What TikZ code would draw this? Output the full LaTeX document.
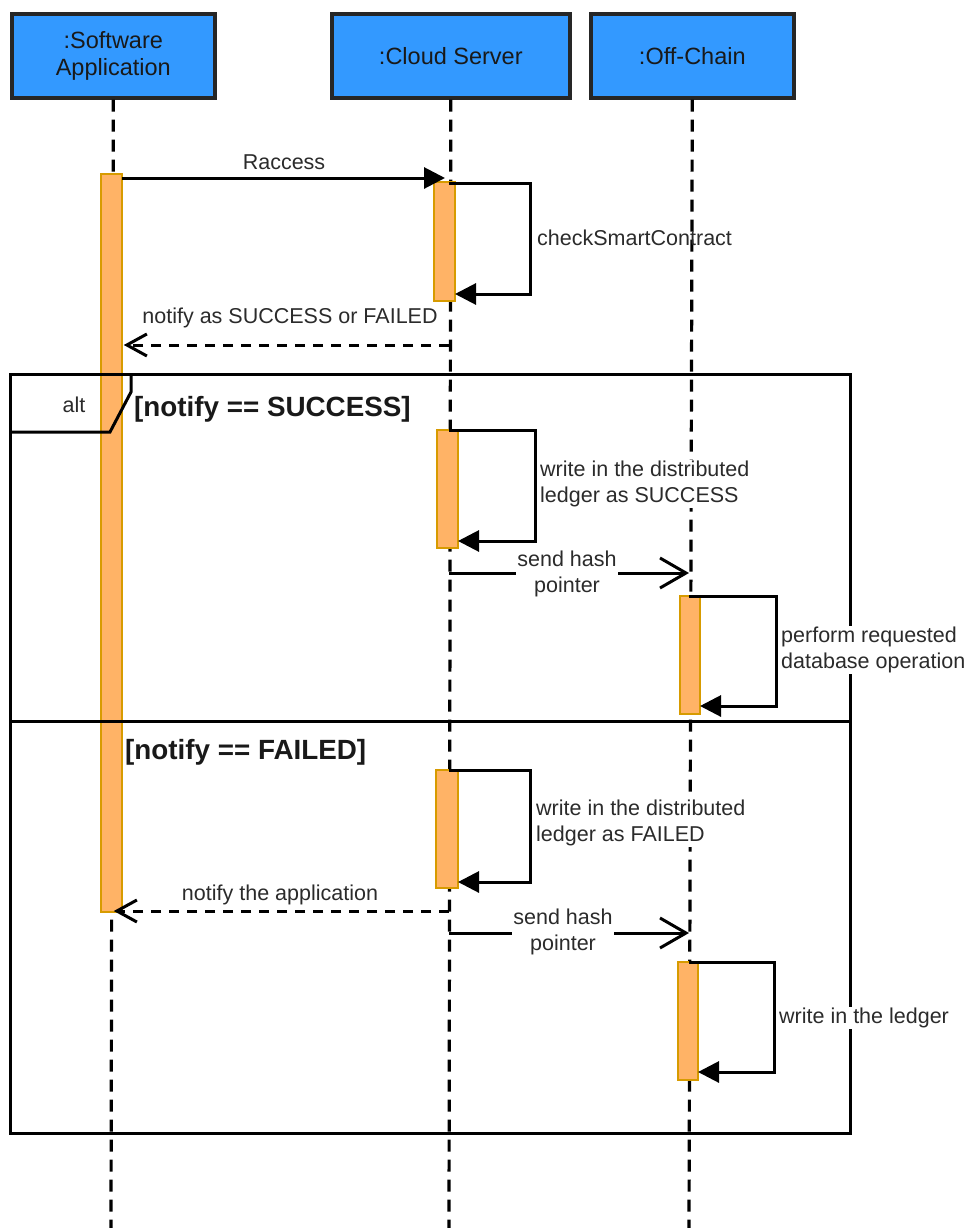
\documentclass[tikz,border=0pt]{standalone}
\usepackage{fontspec}
\setmainfont{Liberation Sans}
\usetikzlibrary{arrows.meta}
\definecolor{boxblue}{HTML}{3399FF}
\definecolor{actfill}{HTML}{FFB366}
\definecolor{actdraw}{HTML}{D79B00}
\definecolor{txtgray}{HTML}{2B2B2B}
\tikzset{
  lifebox/.style={draw=black!85, line width=3.6pt, fill=boxblue, inner sep=0pt, anchor=north west,
    font=\fontsize{23.5}{27}\selectfont, text=black!90, align=center},
  lifeline/.style={line width=3.2pt, dash pattern=on 12pt off 8pt},
  act/.style={draw=actdraw, fill=actfill, line width=1.3pt, inner sep=0pt},
  msg/.style={line width=3pt, -{Triangle[length=21pt,width=21pt]}},
  msgopen/.style={line width=3pt, -{Straight Barb[length=26pt,width=30pt,line width=3pt]}},
  ret/.style={line width=3pt, dash pattern=on 10pt off 8pt, -{Straight Barb[length=20pt,width=22pt,line width=3pt,sep]}},
  lbl/.style={font=\fontsize{21.5}{26}\selectfont, text=txtgray, inner sep=1pt, fill=white, align=center},
  lbll/.style={lbl, align=left, anchor=west},
  guard/.style={font=\bfseries\fontsize{27.8}{30}\selectfont, text=black!90, inner sep=0pt, anchor=west},
  frame/.style={draw=black, line width=3pt}
}
\begin{document}
\begin{tikzpicture}[x=1pt,y=-1pt]
\useasboundingbox (0,0) rectangle (974,1228);
% lifelines
\coordinate (saBot) at (111,1228);
\coordinate (csBot) at (449,1228);
\coordinate (ocBot) at (689,1228);
\node[lifebox, minimum width=203pt, minimum height=84pt] (sa) at (10,12) {:Software\\Application};
\node[lifebox, minimum width=238pt, minimum height=84pt] (cs) at (330,12) {:Cloud Server};
\node[lifebox, minimum width=203pt, minimum height=84pt] (oc) at (589,12) {:Off-Chain};
\draw[lifeline] (sa.south) -- (saBot);
\draw[lifeline] (cs.south) -- (csBot);
\draw[lifeline] (oc.south) -- (ocBot);
% activations
\node[act, minimum width=21pt, minimum height=738pt] (saA) at (111.5,543) {};
\node[act, minimum width=21pt, minimum height=119pt] (cs1) at (444.5,241.5) {};
\node[act, minimum width=21pt, minimum height=118pt] (cs2) at (447.5,489) {};
\node[act, minimum width=20pt, minimum height=118pt] (oc1) at (690,655) {};
\node[act, minimum width=22pt, minimum height=118pt] (cs3) at (447,829) {};
\node[act, minimum width=20pt, minimum height=118pt] (oc2) at (688,1021) {};
% Raccess
\coordinate (r0) at (122,178);
\coordinate (r1) at (445,178);
\draw[msg] (r0) -- (r1);
\node[lbl, fill=none] (lr) at (284,162) {Raccess};
% checkSmartContract loop
\coordinate (l1a) at (449,183);
\coordinate (l1b) at (530,183);
\coordinate (l1c) at (530,294);
\coordinate (l1d) at (455,294);
\draw[msg] (l1a) -- (l1b) -- (l1c) -- (l1d);
\node[lbll, fill=none] (lcs) at (536,238) {checkSmartContract};
% notify as success or failed
\coordinate (n0) at (449,345);
\coordinate (n1) at (122,345);
\draw[ret] (n0) -- (n1);
\node[lbl, fill=none] (ln) at (290,318) {notify as SUCCESS or FAILED};
% alt frame
\coordinate (fTL) at (10,374);
\coordinate (fBR) at (850,1133);
\coordinate (tagA) at (131,374);
\coordinate (tagB) at (131,392);
\coordinate (tagC) at (110,432);
\coordinate (tagD) at (10,432);
\coordinate (sepL) at (10,721);
\coordinate (sepR) at (850,721);
\draw[frame] (fTL) rectangle (fBR);
\draw[frame, line join=miter] (tagA) -- (tagB) -- (tagC) -- (tagD);
\draw[frame] (sepL) -- (sepR);
\node[font=\fontsize{21.5}{26}\selectfont, text=txtgray] (alt) at (74,405) {alt};
\node[guard] (g1) at (134,409) {[notify == SUCCESS]};
\node[guard] (g2) at (125,752) {[notify == FAILED]};
% write SUCCESS loop
\coordinate (l2a) at (449,430);
\coordinate (l2b) at (535,430);
\coordinate (l2c) at (535,541);
\coordinate (l2d) at (458,541);
\draw[msg] (l2a) -- (l2b) -- (l2c) -- (l2d);
\node[lbll] (lw1) at (539,484) {write in the distributed\\ledger as SUCCESS};
% send hash pointer 1
\coordinate (s1a) at (449,573);
\coordinate (s1b) at (689,573);
\draw[msgopen] (s1a) -- (s1b);
\node[lbl, fill=white] (ls1) at (567,574) {send hash\\pointer};
% perform loop
\coordinate (l3a) at (689,596);
\coordinate (l3b) at (776,596);
\coordinate (l3c) at (776,706);
\coordinate (l3d) at (700,706);
\draw[msg] (l3a) -- (l3b) -- (l3c) -- (l3d);
\node[lbll] (lp) at (780,650) {perform requested\\database operation};
% write FAILED loop
\coordinate (l4a) at (449,770);
\coordinate (l4b) at (530,770);
\coordinate (l4c) at (530,882);
\coordinate (l4d) at (458,882);
\draw[msg] (l4a) -- (l4b) -- (l4c) -- (l4d);
\node[lbll] (lw2) at (535,823) {write in the distributed\\ledger as FAILED};
% notify the application
\coordinate (na0) at (449,911);
\coordinate (na1) at (112,911);
\draw[ret] (na0) -- (na1);
\node[lbl, fill=none] (lna) at (280,895) {notify the application};
% send hash pointer 2
\coordinate (s2a) at (449,933);
\coordinate (s2b) at (689,933);
\draw[msgopen] (s2a) -- (s2b);
\node[lbl, fill=white] (ls2) at (563,932) {send hash\\pointer};
% write in the ledger loop
\coordinate (l5a) at (689,962);
\coordinate (l5b) at (774,962);
\coordinate (l5c) at (774,1072);
\coordinate (l5d) at (698,1072);
\draw[msg] (l5a) -- (l5b) -- (l5c) -- (l5d);
\node[lbll] (lwl) at (778,1018) {write in the ledger};
\end{tikzpicture}
\end{document}
